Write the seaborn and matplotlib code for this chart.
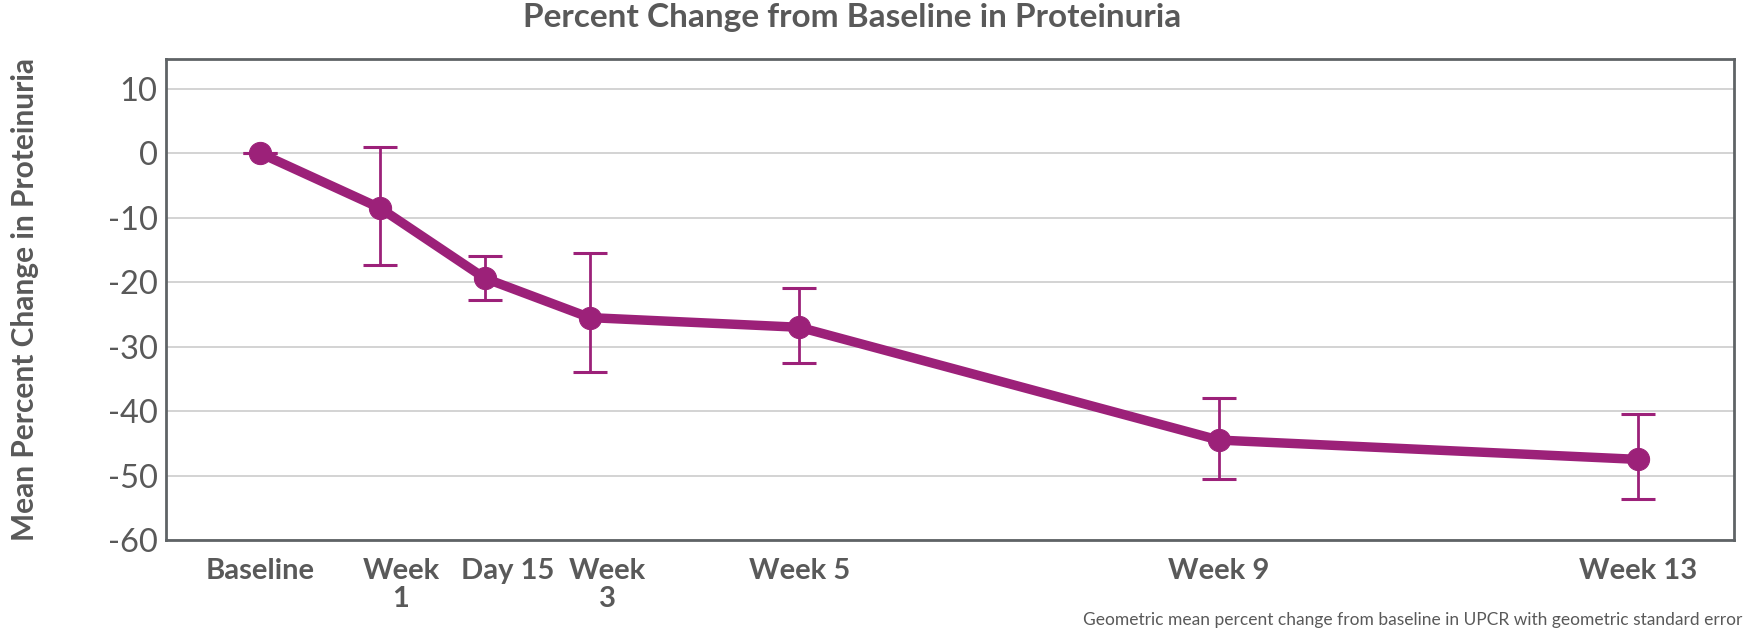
import numpy as np
import pandas as pd
import matplotlib
matplotlib.use("Agg")
import matplotlib.pyplot as plt
import seaborn as sns

# ==========================================
# DATA
# ==========================================
visit_labels = ["Baseline", "Week\n1", "Day 15", "Week\n3", "Week 5", "Week 9", "Week 13"]
study_day = [0, 8, 15, 22, 36, 64, 92]
mean_change = [0.0, -8.5, -19.4, -25.5, -27.0, -44.5, -47.5]
err_upper = [0.0, 1.0, -15.9, -15.5, -20.9, -37.9, -40.5]
err_lower = [0.0, -17.4, -22.7, -34.0, -32.5, -50.6, -53.6]
y_ticks = [10, 0, -10, -20, -30, -40, -50, -60]

df = pd.DataFrame({"day": study_day, "change": mean_change,
                   "upper": err_upper, "lower": err_lower})

purple = "#9c2179"
gray_text = "#595959"

# ==========================================
# PLOT
# ==========================================
sns.set_theme(style="white")
plt.rcParams["font.family"] = ["Lato", "DejaVu Sans"]

fig = plt.figure(figsize=(17.65, 6.36), dpi=100)
ax = fig.add_axes([0.094, 0.151, 0.8884, 0.757])

# error bars first so the line sits on top
yerr = np.array([df["change"] - df["lower"], df["upper"] - df["change"]])
ax.errorbar(df["day"], df["change"], yerr=yerr, fmt="none",
            ecolor=purple, elinewidth=2, capsize=12, capthick=2.2, zorder=3)

sns.lineplot(data=df, x="day", y="change", ax=ax, color=purple,
             linewidth=6.8, marker="o", markersize=16,
             markeredgecolor=purple, zorder=4)

ax.set_xlim(-6.3, 98.4)
ax.set_ylim(-60, 14.7)

ax.set_yticks(y_ticks)
ax.set_yticklabels([str(v) for v in y_ticks], fontsize=23.5, color=gray_text)

# major ticks mark the visits; labels go on minor ticks because the
# narrow-spaced ones are nudged right of their tick in the original
label_nudge = [0, 1.4, 1.5, 1.2, 0, 0, 0]
ax.xaxis.remove_overlapping_locs = False
ax.set_xticks(study_day)
ax.set_xticklabels([])
ax.set_xticks([d + n for d, n in zip(study_day, label_nudge)], minor=True)
ax.set_xticklabels(visit_labels, minor=True, fontsize=21, fontweight="bold",
                   color=gray_text, linespacing=1.1, va="top")

ax.tick_params(axis="x", which="major", direction="out", length=7, width=1,
               color="#bfbfbf")
ax.tick_params(axis="x", which="minor", length=0, pad=13)
ax.tick_params(axis="y", length=0, pad=6)

ax.grid(axis="y", color="#d0d0d0", linewidth=1.3)
ax.set_axisbelow(True)
for side in ax.spines.values():
    side.set_color("#5f6366")
    side.set_linewidth(2)

ax.set_xlabel("")
ax.set_ylabel("Mean Percent Change in Proteinuria", fontsize=21.5,
              fontweight="bold", color=gray_text)
ax.yaxis.set_label_coords(-0.081, 0.5)

fig.text(0.483, 0.972, "Percent Change from Baseline in Proteinuria",
         ha="center", va="center", fontsize=24, fontweight="bold",
         color=gray_text)

fig.text(0.987, 0.012,
         "Geometric mean percent change from baseline in UPCR with geometric standard error",
         ha="right", va="bottom", fontsize=12.5, color=gray_text)

plt.savefig("out.png", dpi=100)
